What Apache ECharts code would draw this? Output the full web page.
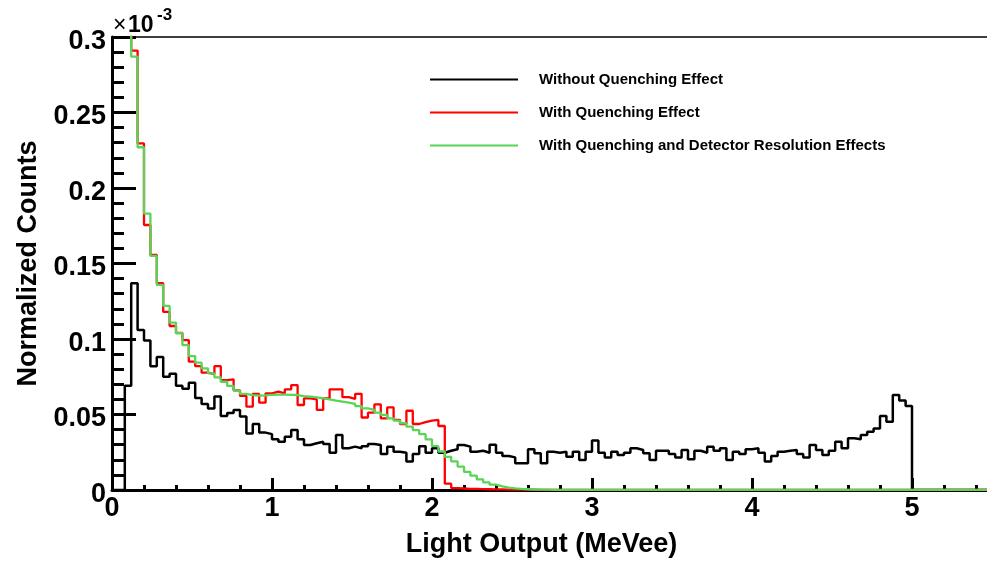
<!DOCTYPE html>
<html>
<head>
<meta charset="utf-8">
<script src="https://cdn.jsdelivr.net/npm/echarts@6/dist/echarts.min.js"></script>
<style>
html,body{margin:0;padding:0;background:#fff;}
#chart{width:987px;height:567px;}
</style>
</head>
<body>
<div id="chart"></div>
<script>
// Histogram bin width (MeVee); bin i covers [i*binWidth, (i+1)*binWidth)
const binWidth = 0.04;
const xTicks = [0, 1, 2, 3, 4, 5];
const yTicks = [0, 0.05, 0.1, 0.15, 0.2, 0.25, 0.3];
const seriesNames = ['Without Quenching Effect', 'With Quenching Effect', 'With Quenching and Detector Resolution Effects'];

// Values in units of 1e-3 (normalized counts)
const withoutQuenching = [
  0, 0, 0.069, 0.137, 0.106, 0.099, 0.082, 0.088, 0.075, 0.077,
  0.069, 0.067, 0.071, 0.061, 0.057, 0.054, 0.062, 0.049, 0.051, 0.053,
  0.0486, 0.0375, 0.0437, 0.038, 0.037, 0.0336, 0.032, 0.0353, 0.0397, 0.0336,
  0.0298, 0.031, 0.032, 0.0305, 0.0247, 0.0364, 0.0276, 0.0287, 0.0276, 0.029,
  0.0305, 0.0298, 0.0238, 0.0287, 0.0254, 0.0247, 0.0188, 0.0238, 0.029, 0.0247,
  0.0276, 0.0247, 0.026, 0.027, 0.0298, 0.0287, 0.0254, 0.026, 0.0247, 0.030,
  0.0247, 0.0225, 0.0216, 0.0177, 0.0177, 0.027, 0.0243, 0.0177, 0.0254, 0.0247,
  0.0254, 0.022, 0.0254, 0.0199, 0.0254, 0.0327, 0.0247, 0.0216, 0.0254, 0.0232,
  0.0247, 0.0276, 0.0265, 0.0243, 0.0199, 0.026, 0.026, 0.0238, 0.0216, 0.0265,
  0.0203, 0.026, 0.0247, 0.0287, 0.026, 0.0276, 0.0199, 0.0254, 0.0238, 0.027,
  0.0276, 0.0247, 0.0188, 0.0225, 0.0254, 0.026, 0.0265, 0.0238, 0.0216, 0.0298,
  0.0265, 0.0232, 0.026, 0.032, 0.0276, 0.0342, 0.0336, 0.0364, 0.0386, 0.0408,
  0.049, 0.0452, 0.0629, 0.0592, 0.0556, 0, 0, 0, 0, 0,
  0, 0, 0, 0, 0, 0, 0, 0
];
const withQuenching = [
  0.46, 0.41, 0.345, 0.291, 0.2295, 0.1755, 0.1557, 0.137, 0.118, 0.1086,
  0.104, 0.0993, 0.085, 0.082, 0.0777, 0.0768, 0.082, 0.0728, 0.0733, 0.066,
  0.0623, 0.0552, 0.0636, 0.0578, 0.064, 0.0651, 0.064, 0.0667, 0.0695, 0.0563,
  0.0607, 0.06, 0.053, 0.0607, 0.0667, 0.0667, 0.0615, 0.0603, 0.0637, 0.048,
  0.0512, 0.0567, 0.0475, 0.0547, 0.0465, 0.0437, 0.0525, 0.0437, 0.0449, 0.046,
  0.0464, 0.0424, 0.0042, 0.0013, 0.001, 0.0008, 0.0007, 0.0006, 0.0005, 0.0004,
  0.0004, 0.0003, 0.0003, 0.0002, 0.0002, 0.0002, 0.0001, 0.0001, 0.0001, 0,
  0, 0, 0, 0, 0, 0, 0, 0, 0, 0,
  0, 0, 0, 0, 0, 0, 0, 0, 0, 0,
  0, 0, 0, 0, 0, 0, 0, 0, 0, 0,
  0, 0, 0, 0, 0, 0, 0, 0, 0, 0,
  0, 0, 0, 0, 0, 0, 0, 0, 0, 0,
  0, 0, 0, 0, 0, 0, 0, 0, 0, 0,
  0, 0, 0, 0, 0, 0, 0, 0
];
const withResolution = [
  0.45, 0.40, 0.34, 0.287, 0.227, 0.183, 0.155, 0.1358, 0.1219, 0.1108,
  0.1038, 0.096, 0.0887, 0.0843, 0.0806, 0.0773, 0.0746, 0.0717, 0.0689, 0.0658,
  0.0636, 0.0629, 0.0625, 0.0627, 0.063, 0.0632, 0.0632, 0.063, 0.0629, 0.0622,
  0.0618, 0.0614, 0.0607, 0.06, 0.0592, 0.0585, 0.0578, 0.057, 0.0556, 0.054,
  0.053, 0.0512, 0.0497, 0.0475, 0.046, 0.0442, 0.042, 0.0397, 0.037, 0.0335,
  0.029, 0.0255, 0.022, 0.019, 0.0155, 0.012, 0.0095, 0.007, 0.005, 0.0035,
  0.0024, 0.0016, 0.0011, 0.0007, 0.0005, 0.0003, 0.0002, 0.0002, 0.0001, 0.0001,
  0.0001, 0.0001, 0.0001, 0.0001, 0.0001, 0.0001, 0.0001, 0.0001, 0.0001, 0.0001,
  0.0001, 0.0001, 0.0001, 0.0001, 0.0001, 0.0001, 0.0001, 0.0001, 0.0001, 0.0001,
  0.0001, 0.0001, 0.0001, 0.0001, 0.0001, 0.0001, 0.0001, 0.0001, 0.0001, 0.0001,
  0.0001, 0.0001, 0.0001, 0.0001, 0.0001, 0.0001, 0.0001, 0.0001, 0.0001, 0.0001,
  0.0001, 0.0001, 0.0001, 0.0001, 0.0001, 0.0001, 0.0001, 0.0001, 0.0001, 0.0001,
  0.0001, 0.0001, 0.0001, 0.0001, 0.0001, 0.0001, 0.0001, 0.0001, 0.0001, 0.0001,
  0.0001, 0.0001, 0.0001, 0.0001, 0.0001, 0.0001, 0.0001, 0.0001
];

// Build step-histogram point lists (left edge of each bin, plus closing right edge)
function histPoints(values) {
  const pts = values.map((v, i) => [i * binWidth, v]);
  const last = values.length;
  pts.push([last * binWidth, values[last - 1]]);
  return pts;
}

const FONT = 'Liberation Sans, Arial, Helvetica, sans-serif';
const chart = echarts.init(document.getElementById('chart'), null, {renderer: 'canvas'});

const lineSeries = (name, values, color, width) => ({
  name: name,
  type: 'line',
  step: 'end',
  symbol: 'none',
  showSymbol: false,
  clip: true,
  data: histPoints(values),
  lineStyle: {color: color, width: width},
  itemStyle: {color: color},
  emphasis: {disabled: true},
  animation: false
});

chart.setOption({
  animation: false,
  backgroundColor: '#ffffff',
  textStyle: {fontFamily: FONT},
  grid: {left: 112, top: 37, width: 960, height: 453, containLabel: false, outerBoundsMode: 'none'},
  legend: {
    orient: 'vertical',
    left: 430,
    top: 72,
    padding: 0,
    icon: 'rect',
    symbolKeepAspect: false,
    itemWidth: 88,
    itemHeight: 2,
    itemGap: 18,
    selectedMode: false,
    data: seriesNames,
    textStyle: {fontFamily: FONT, fontWeight: 'bold', fontSize: 15, color: '#000', padding: [0, 0, 0, 16], lineHeight: 14}
  },
  xAxis: [{
    type: 'value',
    min: xTicks[0],
    max: 6,
    interval: 1,
    name: 'Light Output (MeVee)',
    nameLocation: 'middle',
    nameGap: 41,
    nameTextStyle: {fontFamily: FONT, fontWeight: 'bold', fontSize: 27, color: '#000', padding: [0, 101, 0, 0]},
    axisLine: {show: true, onZero: false, lineStyle: {color: '#000', width: 3}},
    axisTick: {show: true, inside: true, length: 12, lineStyle: {color: '#000', width: 3}},
    minorTick: {show: true, splitNumber: 5, length: 5, lineStyle: {color: '#000', width: 3}},
    axisLabel: {fontFamily: FONT, fontWeight: 'bold', fontSize: 27, color: '#000', margin: 5, showMaxLabel: false,
      formatter: v => (xTicks.indexOf(v) >= 0 ? String(v) : '')},
    splitLine: {show: false},
    minorSplitLine: {show: false}
  }, {
    type: 'value',
    position: 'top',
    min: 0,
    max: 6,
    interval: 1,
    axisLine: {show: true, onZero: false, lineStyle: {color: '#000', width: 1.5}},
    axisTick: {show: false},
    axisLabel: {show: false},
    splitLine: {show: false}
  }],
  yAxis: {
    type: 'value',
    min: yTicks[0],
    max: yTicks[yTicks.length - 1],
    interval: 0.05,
    name: 'Normalized Counts',
    nameLocation: 'middle',
    nameRotate: 90,
    nameGap: 70,
    nameTextStyle: {fontFamily: FONT, fontWeight: 'bold', fontSize: 27, color: '#000'},
    axisLine: {show: true, onZero: false, lineStyle: {color: '#000', width: 3}},
    axisTick: {show: true, inside: true, length: 24, lineStyle: {color: '#000', width: 3}},
    minorTick: {show: true, splitNumber: 5, length: 12, lineStyle: {color: '#000', width: 3}},
    axisLabel: {
      margin: 6,
      formatter: v => '{s| }\n{a|' + parseFloat(v.toFixed(4)) + '}',
      rich: {
        s: {fontSize: 2, lineHeight: 9},
        a: {fontFamily: FONT, fontWeight: 'bold', fontSize: 27, color: '#000', lineHeight: 27}
      }
    },
    splitLine: {show: false},
    minorSplitLine: {show: false}
  },
  graphic: [
    {type: 'text', left: 113, top: 14, silent: true,
      style: {text: '×', font: 'normal 23px ' + FONT, fill: '#000'}},
    {type: 'text', left: 128, top: 14, silent: true,
      style: {text: '10', font: 'bold 23px ' + FONT, fill: '#000'}},
    {type: 'text', left: 157, top: 7, silent: true,
      style: {text: '-3', font: 'bold 17px ' + FONT, fill: '#000'}}
  ],
  series: [
    lineSeries(seriesNames[0], withoutQuenching, '#000000', 2.5),
    lineSeries(seriesNames[1], withQuenching, '#ff0000', 2.3),
    lineSeries(seriesNames[2], withResolution, '#59d454', 2.3)
  ]
});
</script>
</body>
</html>
